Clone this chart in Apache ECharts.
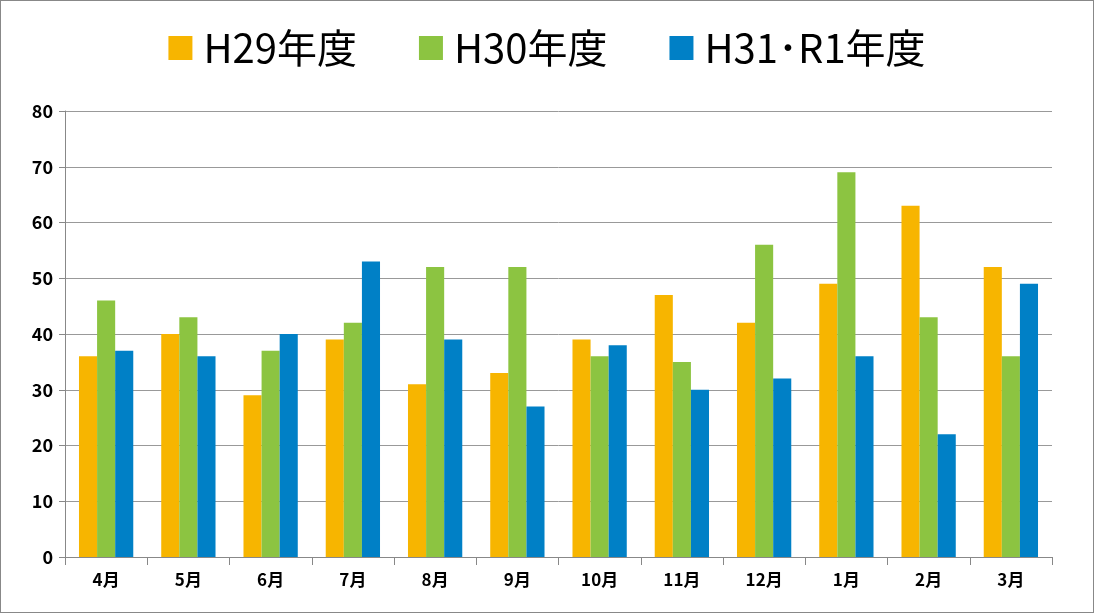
<!DOCTYPE html>
<html>
<head>
<meta charset="utf-8">
<script src="https://cdn.jsdelivr.net/npm/echarts@6/dist/echarts.min.js"></script>
<style>
html,body{margin:0;padding:0;background:#fff;}
#chart{width:1092px;height:611px;border:1px solid #888;}
</style>
</head>
<body>
<div id="chart"></div>
<script>
// 月
var months = ['4月','5月','6月','7月','8月','9月','10月','11月','12月','1月','2月','3月'];
var h29 = [36,40,29,39,31,33,39,47,42,49,63,52];
var h30 = [46,43,37,42,52,52,36,35,56,69,43,36];
var h31 = [37,36,40,53,39,27,38,30,32,36,22,49];

var chart = echarts.init(document.getElementById('chart'));
var font = '"Noto Sans CJK JP", sans-serif';
var option = {
    animation: false,
    legend: {
        top: 22,
        left: 'center',
        itemWidth: 24,
        itemHeight: 24,
        itemGap: 62,
        icon: 'rect',
        textStyle: { fontSize: 40, fontFamily: font, color: '#000', padding: [0, 0, 0, 6] },
        data: ['H29年度', 'H30年度', 'H31･R1年度']
    },
    grid: { left: 64, right: 41, top: 110, bottom: 55 },
    xAxis: {
        type: 'category',
        data: months,
        axisLine: { lineStyle: { color: '#888' } },
        axisTick: { show: true, length: 8, lineStyle: { color: '#888' } },
        axisLabel: { fontSize: 17, fontWeight: 'bold', color: '#000', fontFamily: font, margin: 14 }
    },
    yAxis: {
        type: 'value',
        min: 0, max: 80, interval: 10,
        axisLine: { show: true, lineStyle: { color: '#888' } },
        axisTick: { show: true, length: 6, lineStyle: { color: '#888' } },
        splitLine: { lineStyle: { color: '#999' } },
        axisLabel: { fontSize: 18, fontWeight: 'bold', color: '#000', fontFamily: font, margin: 12 }
    },
    series: [
        { name: 'H29年度', type: 'bar', data: h29, barGap: '0%', barCategoryGap: '34%', itemStyle: { color: '#F7B500' } },
        { name: 'H30年度', type: 'bar', data: h30, itemStyle: { color: '#8CC441' } },
        { name: 'H31･R1年度', type: 'bar', data: h31, itemStyle: { color: '#0080C6' } }
    ]
};
chart.setOption(option);
</script>
</body>
</html>
